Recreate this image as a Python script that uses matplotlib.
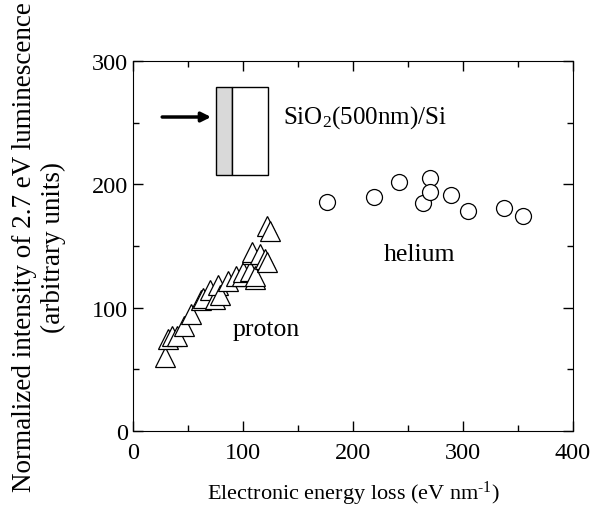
import matplotlib.pyplot as plt
from matplotlib.patches import Rectangle
from matplotlib.ticker import MultipleLocator

plt.rcParams['font.family'] = ['Liberation Serif', 'DejaVu Serif']
plt.rcParams['mathtext.fontset'] = 'custom'
plt.rcParams['mathtext.rm'] = 'Liberation Serif'
plt.rcParams['mathtext.it'] = 'Liberation Serif:italic'

# proton data (triangles)
proton_x = [29, 32, 35, 40, 46, 53, 62, 64, 70, 74.5, 77.6, 79, 86.7, 94, 99,
            100, 106, 108, 108, 111, 111, 115.5, 120, 121.5, 121.5, 124.5]
proton_y = [60, 74.6, 77, 77, 85, 95, 106, 108, 114, 107, 118, 110, 122, 126, 126,
            129, 130, 143.5, 145, 123, 126, 143.5, 139.5, 137, 166.5, 162]

# helium data (circles)
helium_x = [176, 219, 242, 264, 269.7, 269.7, 288.8, 304.5, 337.6, 354.8]
helium_y = [185.7, 189.6, 201.7, 184.6, 205, 193.6, 191.6, 178.7, 180.6, 174.6]

fig = plt.figure(figsize=(6.03, 5.10), dpi=100)
ax = fig.add_axes([0.2206, 0.1529, 0.7294, 0.7255])

ax.plot(proton_x, proton_y, linestyle='none', marker='^', ms=14,
        mfc='white', mec='black', mew=0.9)
ax.plot(helium_x, helium_y, linestyle='none', marker='o', ms=11.5,
        mfc='white', mec='black', mew=0.9)

# inset sketch of the sample
ax.add_patch(Rectangle((75.5, 207.6), 14.5, 71.4, facecolor='#d9d9d9',
                       edgecolor='black', lw=1))
ax.add_patch(Rectangle((90, 207.6), 32.7, 71.4, facecolor='white',
                       edgecolor='black', lw=1))
ax.annotate('', xy=(73.5, 254.6), xytext=(24, 254.6),
            arrowprops=dict(arrowstyle='-|>', color='black', lw=2.5,
                            mutation_scale=14))
ax.text(136, 254.6, r'SiO$_\mathrm{2}$(500nm)/Si', fontsize=18, va='center', ha='left')

ax.text(91, 82.7, 'proton', fontsize=18.5, va='center', ha='left')
ax.text(228, 143.5, 'helium', fontsize=18.5, va='center', ha='left')

ax.set_xlim(0, 400)
ax.set_ylim(0, 300)
ax.xaxis.set_major_locator(MultipleLocator(100))
ax.xaxis.set_minor_locator(MultipleLocator(50))
ax.yaxis.set_major_locator(MultipleLocator(100))
ax.yaxis.set_minor_locator(MultipleLocator(50))
ax.tick_params(which='both', direction='in', top=True, right=True,
               labelsize=17.5, width=1)
ax.tick_params(which='major', length=7)
ax.tick_params(which='minor', length=4)
ax.tick_params(axis='x', pad=8)

ax.set_xlabel('Electronic energy loss (eV nm$^{\\mathrm{\u2010 1}}$)', fontsize=16,
              labelpad=11)
ax.set_ylabel('Normalized intensity of 2.7 eV luminescence\n(arbitrary units)',
              fontsize=19.5, labelpad=19, linespacing=1.2)

fig.savefig('out.png', dpi=100)
